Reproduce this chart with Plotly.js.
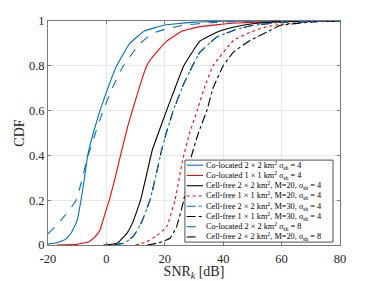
<!DOCTYPE html>
<html>
<head>
<meta charset="utf-8">
<script src="https://cdn.plot.ly/plotly-3.0.1.min.js"></script>
<style>html,body{margin:0;padding:0;background:#fff;}#chart{width:375px;height:281px;}</style>
</head>
<body>
<div id="chart"></div>
<script>
// Series values (x = SNR in dB, y = CDF)
const csa2s4_x = [-20,-17,-14,-12,-10,-8.7,-7.5,-6.4,-4.5,-2.2,0.5,3.5,8,13,20,30,40,60,80];
const csa2s4_y = [0.004,0.01,0.025,0.055,0.11,0.2,0.3,0.4,0.5,0.6,0.7,0.8,0.9,0.955,0.982,0.995,0.999,1,1];

const csa1s4_x = [-17,-10,-6,-4,-2.2,0,1,3,5.2,7.3,8.9,11.5,13.8,15.5,20.6,26,32,43,60,80];
const csa1s4_y = [0,0.003,0.015,0.035,0.067,0.16,0.2,0.3,0.42,0.53,0.6,0.713,0.8,0.835,0.91,0.955,0.975,0.99,0.999,1];

const cf2m20s4_x = [-1,2,4,7,9,11.7,13.5,15.7,17.8,20.6,23.5,26.5,32,37.8,43.4,50,60,80];
const cf2m20s4_y = [0,0.003,0.01,0.052,0.1,0.2,0.3,0.423,0.5,0.6,0.7,0.8,0.91,0.95,0.972,0.988,0.997,1];

const cf1m20s4_x = [10,13.8,17,20.6,23.5,26.1,28.5,31.1,33.5,36.5,43.5,49.2,55,60,70,80];
const cf1m20s4_y = [0,0.015,0.04,0.08,0.2,0.379,0.5,0.6,0.7,0.8,0.913,0.95,0.975,0.985,0.997,1];

const cf2m30s4_x = [3,6,9.2,12,14.9,16.8,18.9,20.5,22.9,26.5,29.5,32,37.8,43.5,49,60,80];
const cf2m30s4_y = [0,0.008,0.037,0.1,0.2,0.3,0.423,0.5,0.6,0.72,0.8,0.86,0.928,0.958,0.978,0.994,1];

const cf1m30s4_x = [14,18,21.8,24,26.5,29.2,31.5,34.4,36.5,40,43.5,49.2,54.9,59.5,70,80];
const cf1m30s4_y = [0,0.01,0.03,0.08,0.2,0.4,0.5,0.6,0.7,0.8,0.861,0.913,0.95,0.98,0.995,1];

const csa2s8_x = [-20,-17,-14,-12,-10.2,-8.3,-6.5,-4,-1.1,2,5.8,11.5,16,20,26,35,50,80];
const csa2s8_y = [0.05,0.09,0.135,0.168,0.205,0.295,0.39,0.49,0.6,0.7,0.8,0.9,0.945,0.963,0.98,0.992,0.999,1];

const cf2m20s8_x = [2.5,6,9.2,12,14.9,16.8,18.9,20.5,22.9,26.5,29.5,32,37.8,43.5,49,60,80];
const cf2m20s8_y = [0,0.009,0.038,0.1,0.2,0.3,0.423,0.5,0.6,0.72,0.8,0.86,0.928,0.958,0.978,0.994,1];

const seriesNames = [
  'Co-located 2 × 2 km<sup>2</sup> <i>σ</i><sub>sh</sub> = 4',
  'Co-located 1 × 1 km<sup>2</sup> <i>σ</i><sub>sh</sub> = 4',
  'Cell-free 2 × 2 km<sup>2</sup>, M=20, <i>σ</i><sub>sh</sub> = 4',
  'Cell-free 1 × 1 km<sup>2</sup>, M=20, <i>σ</i><sub>sh</sub> = 4',
  'Cell-free 2 × 2 km<sup>2</sup>, M=30, <i>σ</i><sub>sh</sub> = 4',
  'Cell-free 1 × 1 km<sup>2</sup>, M=30, <i>σ</i><sub>sh</sub> = 4',
  'Co-located 2 × 2 km<sup>2</sup> <i>σ</i><sub>sh</sub> = 8',
  'Cell-free 2 × 2 km<sup>2</sup>, M=20, <i>σ</i><sub>sh</sub> = 8'
];
const seriesX = [csa2s4_x, csa1s4_x, cf2m20s4_x, cf1m20s4_x, cf2m30s4_x, cf1m30s4_x, csa2s8_x, cf2m20s8_x];
const seriesY = [csa2s4_y, csa1s4_y, cf2m20s4_y, cf1m20s4_y, cf2m30s4_y, cf1m30s4_y, csa2s8_y, cf2m20s8_y];
const seriesColors = ['#0072BD','#FF0000','#000000','#FF0000','#0072BD','#000000','#0072BD','#000000'];
const seriesDash = ['solid','solid','solid','dot','dashdot','dashdot','dash','dash'];

const xTicks = [-20,0,20,40,60,80];
const yTicks = [0,0.2,0.4,0.6,0.8,1];
const yTickText = ['0','0.2','0.4','0.6','0.8','1'];

const FONT = 'Liberation Serif, DejaVu Serif, serif';

// draw order: blue dash-dot over black dashed like the reference
const drawOrder = [0,1,2,3,5,7,6,4];
const traces = drawOrder.map(i => ({
  type: 'scatter', mode: 'lines',
  x: seriesX[i], y: seriesY[i], name: seriesNames[i],
  line: {color: seriesColors[i], dash: seriesDash[i], width: 1.1, shape: 'spline', smoothing: 0.3},
  showlegend: false, hoverinfo: 'skip'
}));

// compact MATLAB-style legend built from the series arrays
const shapes = [];
const annotations = [];
const lgX0 = 0.469, lgX1 = 0.976, lgTop = 0.379, lgBot = 0.013;
shapes.push({type:'rect', xref:'paper', yref:'paper', x0:lgX0, x1:lgX1, y0:lgBot, y1:lgTop,
  line:{color:'#262626', width:0.8}, fillcolor:'#ffffff', layer:'above'});
const step = (lgTop - lgBot) / seriesNames.length;
seriesNames.forEach((nm, i) => {
  const yc = lgTop - step * (i + 0.5);
  shapes.push({type:'line', xref:'paper', yref:'paper', x0:lgX0 + 0.006, x1:lgX0 + 0.062, y0:yc, y1:yc,
    line:{color:seriesColors[i], dash:seriesDash[i], width:1.1}, layer:'above'});
  annotations.push({xref:'paper', yref:'paper', x:lgX0 + 0.066, y:yc, xanchor:'left', yanchor:'middle',
    text:nm, showarrow:false, font:{family:FONT, size:8.3, color:'#000'}});
});

const layout = {
  width: 375, height: 281,
  margin: {l: 48, r: 35, t: 21, b: 36},
  paper_bgcolor: '#fff', plot_bgcolor: '#fff',
  showlegend: false,
  font: {family: FONT, color: '#262626'},
  xaxis: {
    range: [-20, 80], tickvals: xTicks, ticktext: xTicks.map(String),
    showgrid: true, gridcolor: '#e8e8e8', zeroline: false,
    showline: true, linecolor: '#7a7a7a', linewidth: 1, mirror: 'ticks',
    ticks: 'inside', ticklen: 3, tickcolor: '#7a7a7a',
    ticklabelstandoff: 2,
    tickfont: {family: FONT, size: 12.5, color: '#262626'},
    title: {text: 'SNR<sub><i>k</i></sub> [dB]', font: {family: FONT, size: 14, color: '#262626'}, standoff: 3}
  },
  yaxis: {
    range: [0, 1], tickvals: yTicks, ticktext: yTickText,
    showgrid: true, gridcolor: '#e8e8e8', zeroline: false,
    showline: true, linecolor: '#7a7a7a', linewidth: 1, mirror: 'ticks',
    ticks: 'inside', ticklen: 3, tickcolor: '#7a7a7a',
    tickfont: {family: FONT, size: 12.5, color: '#262626'},
    title: {text: 'CDF', font: {family: FONT, size: 14, color: '#262626'}, standoff: 0}
  },
  shapes: shapes,
  annotations: annotations
};

Plotly.newPlot('chart', traces, layout, {staticPlot: true, displayModeBar: false});
</script>
</body>
</html>
